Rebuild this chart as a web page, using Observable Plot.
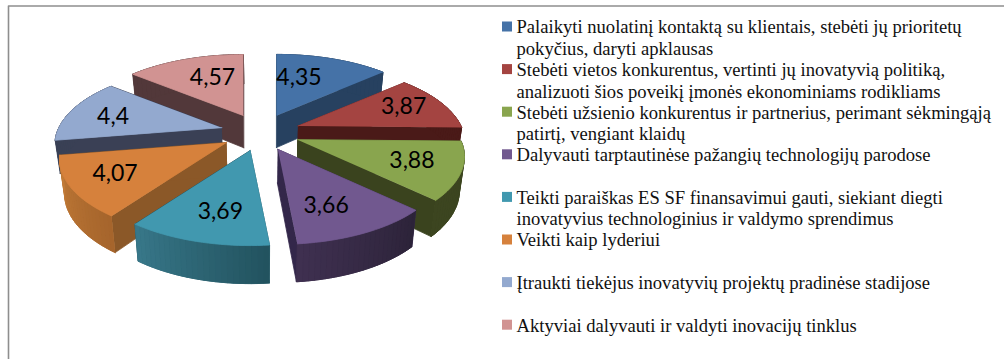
<!DOCTYPE html>
<html>
<head>
<meta charset="utf-8">
<script src="https://cdn.jsdelivr.net/npm/d3@7"></script>
<script src="https://cdn.jsdelivr.net/npm/@observablehq/plot@0.6"></script>
<style>
  html, body { margin: 0; padding: 0; background: #fff; overflow: hidden; }
  #chart svg { display: block; }
</style>
</head>
<body>
<div id="chart"></div>
<script>
const values = [4.35, 3.87, 3.88, 3.66, 3.69, 4.07, 4.4, 4.57];
const valueLabels = ["4,35", "3,87", "3,88", "3,66", "3,69", "4,07", "4,4", "4,57"];
const categories = [
  "Palaikyti nuolatinį kontaktą su klientais, stebėti jų prioritetų\npokyčius, daryti apklausas",
  "Stebėti vietos konkurentus, vertinti jų inovatyvią politiką,\nanalizuoti šios poveikį įmonės ekonominiams rodikliams",
  "Stebėti užsienio konkurentus ir partnerius, perimant sėkmingąją\npatirtį, vengiant klaidų",
  "Dalyvauti tarptautinėse pažangių technologijų parodose",
  "Teikti paraiškas ES SF finansavimui gauti, siekiant diegti\ninovatyvius technologinius ir valdymo sprendimus",
  "Veikti kaip lyderiui",
  "Įtraukti tiekėjus inovatyvių projektų pradinėse stadijose",
  "Aktyviai dalyvauti ir valdyti inovacijų tinklus"
];
const topColors = ["#4572a7", "#a44441", "#89a54e", "#71588f", "#4198af", "#d6813c", "#93a9cf", "#d19392"];
const radialColors = ["#274160", "#4a1a18", "#3a431e", "#33274a", "#22525e", "#8b5828", "#3a4055", "#52383a"];
const wallStartColors = ["#274160", "#4a1a18", "#3c4520", "#2c2339", "#22525e", "#a5652c", "#3a4055", "#52383a"];
const wallEndColors = ["#274160", "#4a1a18", "#3c4520", "#3f3050", "#38788a", "#c47c38", "#3a4055", "#52383a"];
const labelNudgeX = [-8, 6, 0, 0, -3, -6, -3, 1];
const labelNudgeY = [0, -3, 0, 0, 0, 1, 1, 0];
const drawOrder = [0, 7, 1, 6, 2, 5, 3, 4];

const W = 1004, H = 359;
// Pie projection: exploded slices on a tilted disc, seen with a perspective.
const cx = 260, cy = 132, explodeX = 40, explodeY = 18.7;
const radiusX = 163, radiusY = 74.3, perspective = 0.218;
const total = d3.sum(values);
const starts = Array.from(d3.cumsum([0, ...values]));
const toAngle = (v) => (v / total) * 2 * Math.PI;

const apexOf = (mid) => [cx + explodeX * Math.sin(mid), cy - explodeY * Math.cos(mid)];
const rimOffset = (a) => {
  const u = Math.sin(a), v = -Math.cos(a), s = 1 / (1 - perspective * v);
  return [radiusX * u * s, radiusY * v * s];
};
const lower = ([x, y]) => [cx + (x - cx) * 0.975, 1.045 * y + 27];

const faces = [];
const addFace = (id, color, pts) => pts.forEach(([x, y]) => faces.push({face: id, color, x, y}));
for (const i of drawOrder) {
  const a0 = toAngle(starts[i]), a1 = toAngle(starts[i + 1]), mid = (a0 + a1) / 2;
  const apex = apexOf(mid);
  const rim = (a) => { const o = rimOffset(a); return [apex[0] + o[0], apex[1] + o[1]]; };
  for (const [k, a] of [[0, a0], [1, a1]]) {
    const p = rim(a);
    addFace(`r${i}-${k}`, radialColors[i], [apex, p, lower(p), lower(apex)]);
  }
  const n = 24;
  const arc = d3.range(n + 1).map((j) => rim(a0 + (a1 - a0) * j / n));
  const mix = d3.interpolateRgb(wallStartColors[i], wallEndColors[i]);
  addFace(`u${i}`, d3.color(mix(0.5)).formatHex(), [...arc, ...arc.map(lower).reverse()]);
  for (let j = 0; j < n; ++j) {
    const p = arc[j], q = arc[j + 1];
    addFace(`w${i}-${j}`, d3.color(mix((j + 0.5) / n)).formatHex(), [p, q, lower(q), lower(p)]);
  }
  addFace(`t${i}`, topColors[i], [apex, ...arc]);
}

const labelRows = values.map((v, i) => {
  const a0 = toAngle(starts[i]), a1 = toAngle(starts[i + 1]), mid = (a0 + a1) / 2;
  const apex = apexOf(mid), o = rimOffset(mid);
  const reach = 0.42 + 0.3 * Math.abs(Math.sin(mid));
  return {text: valueLabels[i], x: apex[0] + o[0] * reach + labelNudgeX[i], y: apex[1] + o[1] * 0.67 + labelNudgeY[i]};
});

const legendX = 516, legendTop = 27, legendStep = 42.6, lineStep = 21.5;
const legendLines = categories.flatMap((c, i) =>
  c.split("\n").map((line, k) => ({line, x: legendX, y: legendTop + i * legendStep + k * lineStep})));
const swatches = categories.map((c, i) => ({
  y1: legendTop + i * legendStep - 5.5, y2: legendTop + i * legendStep + 4.5, color: topColors[i]
}));

const frame = [{x: 8, y: H}, {x: 8, y: 5.5}, {x: W, y: 5.5}];

const chart = Plot.plot({
  width: W, height: H,
  margin: 0,
  style: {background: "#fff"},
  x: {domain: [0, W], range: [0, W], axis: null},
  y: {domain: [0, H], range: [0, H], axis: null},
  color: {type: "identity"},
  marks: [
    Plot.line(frame, {x: "x", y: "y", stroke: "#8e8e8e", strokeWidth: 1.6, curve: "linear"}),
    Plot.line(faces, {x: "x", y: "y", z: "face", fill: "color", stroke: "color", strokeWidth: 0.8}),
    Plot.text(labelRows, {x: "x", y: "y", text: "text", fontFamily: "Lato", fontSize: 23, fill: "#000"}),
    Plot.rect(swatches, {x1: () => legendX - 14, x2: () => legendX - 4, y1: "y1", y2: "y2", fill: "color"}),
    Plot.text(legendLines, {x: "x", y: "y", text: "line", textAnchor: "start", fontFamily: "Liberation Serif", fontSize: 18.6, fill: "#111"})
  ]
});
document.getElementById("chart").appendChild(chart);
</script>
</body>
</html>
